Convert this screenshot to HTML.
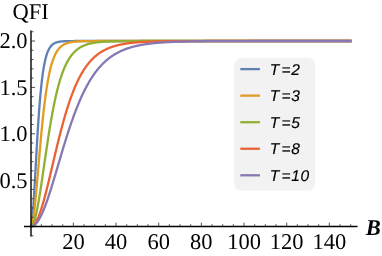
<!DOCTYPE html>
<html><head><meta charset="utf-8"><style>
html,body{margin:0;padding:0;background:#fff;}
svg{display:block;will-change:transform}
text{text-rendering:geometricPrecision}
.tk{font-family:"Liberation Serif",serif;font-size:22.5px;fill:#000}
.bl{font-family:"Liberation Serif",serif;font-size:22.5px;font-weight:bold;font-style:italic;fill:#000}
.lg{font-family:"Liberation Sans",sans-serif;font-size:15.5px;font-style:italic;fill:#000;letter-spacing:0.6px;stroke:#000;stroke-width:0.15px}
.lgi{font-family:"Liberation Sans",sans-serif;font-size:15.5px;font-style:italic;fill:#000;stroke:#000;stroke-width:0.15px}
</style></head><body>
<svg width="382" height="256" viewBox="0 0 382 256">
<rect width="382" height="256" fill="#fff"/>
<g>
<polyline fill="none" stroke="#5E81B5" stroke-width="2.3" stroke-linejoin="round" stroke-linecap="butt" points="30.73,226.50 31.14,225.96 31.55,224.36 31.96,221.73 32.37,218.13 32.78,213.64 33.19,208.36 33.60,202.39 34.02,195.85 34.44,188.85 34.86,181.52 35.28,173.96 35.70,166.29 36.13,158.59 36.56,150.96 36.99,143.48 37.42,136.19 37.86,129.17 38.29,122.43 38.73,116.02 39.17,109.95 39.61,104.23 40.06,98.87 40.50,93.87 40.95,89.23 41.39,84.92 41.84,80.94 42.29,77.28 42.74,73.92 43.19,70.84 43.65,68.02 44.10,65.44 44.55,63.10 45.01,60.96 45.46,59.02 45.92,57.26 46.37,55.67 46.83,54.22 47.29,52.92 47.74,51.73 48.20,50.66 48.66,49.70 49.12,48.83 49.57,48.04 50.03,47.34 50.49,46.70 50.95,46.12 51.41,45.61 51.87,45.14 52.33,44.72 52.78,44.34 53.24,44.01 53.70,43.70 54.16,43.43 54.62,43.18 55.08,42.96 55.54,42.76 56.00,42.58 56.46,42.42 56.92,42.27 57.38,42.14 57.84,42.03 58.30,41.92 58.76,41.83 59.22,41.74 59.68,41.67 60.14,41.60 60.60,41.54 61.06,41.48 61.52,41.43 61.98,41.39 62.44,41.35 62.90,41.31 63.36,41.28 63.82,41.25 64.28,41.23 64.74,41.20 65.20,41.18 65.66,41.16 66.12,41.15 66.58,41.13 67.04,41.12 67.50,41.11 67.96,41.10 68.42,41.09 68.88,41.08 69.34,41.07 69.80,41.06 70.26,41.06 70.72,41.05 71.18,41.05 71.64,41.04 72.10,41.04 72.56,41.03 73.02,41.03 73.48,41.03 73.94,41.02 74.40,41.02 74.86,41.02 75.32,41.02 75.78,41.02 76.24,41.01 76.70,41.01 77.16,41.01 77.62,41.01 78.08,41.01 78.54,41.01 79.00,41.01 79.46,41.01 79.92,41.01 80.38,41.01 80.84,41.00 81.30,41.00 81.76,41.00 82.22,41.00 82.68,41.00 83.14,41.00 83.60,41.00 84.06,41.00 84.52,41.00 84.98,41.00 85.44,41.00 85.90,41.00 86.36,41.00 86.82,41.00 87.28,41.00 87.75,41.00 88.21,41.00 88.67,41.00 89.13,41.00 89.59,41.00 90.05,41.00 90.51,41.00 90.97,41.00 91.43,41.00 91.89,41.00 92.35,41.00 92.81,41.00 93.27,41.00 93.73,41.00 94.19,41.00 94.65,41.00 95.11,41.00 95.57,41.00 96.03,41.00 96.49,41.00 96.95,41.00 97.41,41.00 97.87,41.00 98.33,41.00 98.79,41.00 99.25,41.00 99.71,41.00 100.17,41.00 100.63,41.00 101.09,41.00 101.55,41.00 102.01,41.00 102.47,41.00 102.93,41.00 103.39,41.00 103.85,41.00 104.31,41.00 104.77,41.00 105.23,41.00 105.69,41.00 106.15,41.00 106.61,41.00 107.07,41.00 107.53,41.00 107.99,41.00 108.45,41.00 108.91,41.00 109.37,41.00 109.83,41.00 110.29,41.00 110.75,41.00 111.21,41.00 111.67,41.00 112.13,41.00 112.59,41.00 113.05,41.00 113.51,41.00 113.97,41.00 114.43,41.00 114.89,41.00 115.35,41.00 115.81,41.00 116.27,41.00 116.73,41.00 117.19,41.00 117.65,41.00 118.11,41.00 118.57,41.00 119.03,41.00 119.49,41.00 119.95,41.00 120.41,41.00 120.87,41.00 121.33,41.00 121.79,41.00 122.25,41.00 122.71,41.00 123.17,41.00 123.63,41.00 124.09,41.00 124.55,41.00 125.01,41.00 125.47,41.00 125.93,41.00 126.40,41.00 126.86,41.00 127.32,41.00 127.78,41.00 128.24,41.00 128.70,41.00 129.16,41.00 129.62,41.00 130.08,41.00 130.54,41.00 131.00,41.00 131.46,41.00 131.92,41.00 132.38,41.00 132.84,41.00 133.30,41.00 133.76,41.00 134.22,41.00 134.68,41.00 135.14,41.00 135.60,41.00 136.06,41.00 136.52,41.00 136.98,41.00 137.44,41.00 137.90,41.00 138.36,41.00 138.82,41.00 139.28,41.00 139.74,41.00 140.20,41.00 140.66,41.00 141.12,41.00 141.58,41.00 142.04,41.00 142.50,41.00 142.96,41.00 143.42,41.00 143.88,41.00 144.34,41.00 144.80,41.00 145.26,41.00 145.72,41.00 146.18,41.00 146.64,41.00 147.10,41.00 147.56,41.00 148.02,41.00 148.48,41.00 148.94,41.00 149.40,41.00 149.86,41.00 150.32,41.00 150.78,41.00 151.24,41.00 151.70,41.00 152.16,41.00 152.62,41.00 153.08,41.00 153.54,41.00 154.00,41.00 154.46,41.00 154.92,41.00 155.38,41.00 155.84,41.00 156.30,41.00 156.76,41.00 157.22,41.00 157.68,41.00 158.14,41.00 158.60,41.00 159.06,41.00 159.52,41.00 159.98,41.00 160.44,41.00 160.90,41.00 161.36,41.00 161.82,41.00 162.28,41.00 162.74,41.00 163.20,41.00 163.66,41.00 164.12,41.00 164.58,41.00 165.05,41.00 165.51,41.00 165.97,41.00 166.43,41.00 166.89,41.00 167.35,41.00 167.81,41.00 168.27,41.00 168.73,41.00 169.19,41.00 169.65,41.00 170.11,41.00 170.57,41.00 171.03,41.00 171.49,41.00 171.95,41.00 172.41,41.00 172.87,41.00 173.33,41.00 173.79,41.00 174.25,41.00 174.71,41.00 175.17,41.00 175.63,41.00 176.09,41.00 176.55,41.00 177.01,41.00 177.47,41.00 177.93,41.00 178.39,41.00 178.85,41.00 179.31,41.00 179.77,41.00 180.23,41.00 180.69,41.00 181.15,41.00 181.61,41.00 182.07,41.00 182.53,41.00 182.99,41.00 183.45,41.00 183.91,41.00 184.37,41.00 184.83,41.00 185.29,41.00 185.75,41.00 186.21,41.00 186.67,41.00 187.13,41.00 187.59,41.00 188.05,41.00 188.51,41.00 188.97,41.00 189.43,41.00 189.89,41.00 190.35,41.00 190.81,41.00 191.27,41.00 191.73,41.00 192.19,41.00 192.65,41.00 193.11,41.00 193.57,41.00 194.03,41.00 194.49,41.00 194.95,41.00 195.41,41.00 195.87,41.00 196.33,41.00 196.79,41.00 197.25,41.00 197.71,41.00 198.17,41.00 198.63,41.00 199.09,41.00 199.55,41.00 200.01,41.00 200.47,41.00 200.93,41.00 201.39,41.00 201.85,41.00 202.31,41.00 202.77,41.00 203.23,41.00 203.69,41.00 204.16,41.00 204.62,41.00 205.08,41.00 205.54,41.00 206.00,41.00 206.46,41.00 206.92,41.00 207.38,41.00 207.84,41.00 208.30,41.00 208.76,41.00 209.22,41.00 209.68,41.00 210.14,41.00 210.60,41.00 211.06,41.00 211.52,41.00 211.98,41.00 212.44,41.00 212.90,41.00 213.36,41.00 213.82,41.00 214.28,41.00 214.74,41.00 215.20,41.00 215.66,41.00 216.12,41.00 216.58,41.00 217.04,41.00 217.50,41.00 217.96,41.00 218.42,41.00 218.88,41.00 219.34,41.00 219.80,41.00 220.26,41.00 220.72,41.00 221.18,41.00 221.64,41.00 222.10,41.00 222.56,41.00 223.02,41.00 223.48,41.00 223.94,41.00 224.40,41.00 224.86,41.00 225.32,41.00 225.78,41.00 226.24,41.00 226.70,41.00 227.16,41.00 227.62,41.00 228.08,41.00 228.54,41.00 229.00,41.00 229.46,41.00 229.92,41.00 230.38,41.00 230.84,41.00 231.30,41.00 231.76,41.00 232.22,41.00 232.68,41.00 233.14,41.00 233.60,41.00 234.06,41.00 234.52,41.00 234.98,41.00 235.44,41.00 235.90,41.00 236.36,41.00 236.82,41.00 237.28,41.00 237.74,41.00 238.20,41.00 238.66,41.00 239.12,41.00 239.58,41.00 240.04,41.00 240.50,41.00 240.96,41.00 241.42,41.00 241.88,41.00 242.34,41.00 242.81,41.00 243.27,41.00 243.73,41.00 244.19,41.00 244.65,41.00 245.11,41.00 245.57,41.00 246.03,41.00 246.49,41.00 246.95,41.00 247.41,41.00 247.87,41.00 248.33,41.00 248.79,41.00 249.25,41.00 249.71,41.00 250.17,41.00 250.63,41.00 251.09,41.00 251.55,41.00 252.01,41.00 252.47,41.00 252.93,41.00 253.39,41.00 253.85,41.00 254.31,41.00 254.77,41.00 255.23,41.00 255.69,41.00 256.15,41.00 256.61,41.00 257.07,41.00 257.53,41.00 257.99,41.00 258.45,41.00 258.91,41.00 259.37,41.00 259.83,41.00 260.29,41.00 260.75,41.00 261.21,41.00 261.67,41.00 262.13,41.00 262.59,41.00 263.05,41.00 263.51,41.00 263.97,41.00 264.43,41.00 264.89,41.00 265.35,41.00 265.81,41.00 266.27,41.00 266.73,41.00 267.19,41.00 267.65,41.00 268.11,41.00 268.57,41.00 269.03,41.00 269.49,41.00 269.95,41.00 270.41,41.00 270.87,41.00 271.33,41.00 271.79,41.00 272.25,41.00 272.71,41.00 273.17,41.00 273.63,41.00 274.09,41.00 274.55,41.00 275.01,41.00 275.47,41.00 275.93,41.00 276.39,41.00 276.85,41.00 277.31,41.00 277.77,41.00 278.23,41.00 278.69,41.00 279.15,41.00 279.61,41.00 280.07,41.00 280.53,41.00 280.99,41.00 281.46,41.00 281.92,41.00 282.38,41.00 282.84,41.00 283.30,41.00 283.76,41.00 284.22,41.00 284.68,41.00 285.14,41.00 285.60,41.00 286.06,41.00 286.52,41.00 286.98,41.00 287.44,41.00 287.90,41.00 288.36,41.00 288.82,41.00 289.28,41.00 289.74,41.00 290.20,41.00 290.66,41.00 291.12,41.00 291.58,41.00 292.04,41.00 292.50,41.00 292.96,41.00 293.42,41.00 293.88,41.00 294.34,41.00 294.80,41.00 295.26,41.00 295.72,41.00 296.18,41.00 296.64,41.00 297.10,41.00 297.56,41.00 298.02,41.00 298.48,41.00 298.94,41.00 299.40,41.00 299.86,41.00 300.32,41.00 300.78,41.00 301.24,41.00 301.70,41.00 302.16,41.00 302.62,41.00 303.08,41.00 303.54,41.00 304.00,41.00 304.46,41.00 304.92,41.00 305.38,41.00 305.84,41.00 306.30,41.00 306.76,41.00 307.22,41.00 307.68,41.00 308.14,41.00 308.60,41.00 309.06,41.00 309.52,41.00 309.98,41.00 310.44,41.00 310.90,41.00 311.36,41.00 311.82,41.00 312.28,41.00 312.74,41.00 313.20,41.00 313.66,41.00 314.12,41.00 314.58,41.00 315.04,41.00 315.50,41.00 315.96,41.00 316.42,41.00 316.88,41.00 317.34,41.00 317.80,41.00 318.26,41.00 318.72,41.00 319.18,41.00 319.64,41.00 320.10,41.00 320.57,41.00 321.03,41.00 321.49,41.00 321.95,41.00 322.41,41.00 322.87,41.00 323.33,41.00 323.79,41.00 324.25,41.00 324.71,41.00 325.17,41.00 325.63,41.00 326.09,41.00 326.55,41.00 327.01,41.00 327.47,41.00 327.93,41.00 328.39,41.00 328.85,41.00 329.31,41.00 329.77,41.00 330.23,41.00 330.69,41.00 331.15,41.00 331.61,41.00 332.07,41.00 332.53,41.00 332.99,41.00 333.45,41.00 333.91,41.00 334.37,41.00 334.83,41.00 335.29,41.00 335.75,41.00 336.21,41.00 336.67,41.00 337.13,41.00 337.59,41.00 338.05,41.00 338.51,41.00 338.97,41.00 339.43,41.00 339.89,41.00 340.35,41.00 340.81,41.00 341.27,41.00 341.73,41.00 342.19,41.00 342.65,41.00 343.11,41.00 343.57,41.00 344.03,41.00 344.49,41.00 344.95,41.00 345.41,41.00 345.87,41.00 346.33,41.00 346.79,41.00 347.25,41.00 347.71,41.00 348.17,41.00 348.63,41.00 349.09,41.00 349.55,41.00 350.01,41.00 350.47,41.00 350.93,41.00 351.39,41.00 351.64,41.00"/>
<polyline fill="none" stroke="#E19C24" stroke-width="2.3" stroke-linejoin="round" stroke-linecap="butt" points="30.73,226.50 31.16,226.26 31.58,225.54 32.01,224.36 32.43,222.72 32.86,220.63 33.29,218.13 33.71,215.23 34.14,211.96 34.57,208.36 35.00,204.45 35.43,200.26 35.86,195.85 36.29,191.22 36.73,186.44 37.16,181.52 37.59,176.50 38.03,171.41 38.47,166.29 38.90,161.15 39.34,156.04 39.78,150.96 40.22,145.95 40.66,141.02 41.10,136.19 41.55,131.48 41.99,126.89 42.43,122.43 42.88,118.12 43.33,113.95 43.77,109.95 44.22,106.10 44.67,102.40 45.12,98.87 45.57,95.50 46.02,92.29 46.47,89.23 46.92,86.32 47.37,83.56 47.82,80.94 48.28,78.47 48.73,76.13 49.18,73.92 49.64,71.83 50.09,69.87 50.55,68.02 51.00,66.28 51.46,64.64 51.91,63.10 52.37,61.65 52.83,60.30 53.28,59.02 53.74,57.83 54.20,56.72 54.66,55.67 55.11,54.69 55.57,53.77 56.03,52.92 56.49,52.11 56.94,51.36 57.40,50.66 57.86,50.01 58.32,49.40 58.78,48.83 59.24,48.30 59.70,47.80 60.15,47.34 60.61,46.90 61.07,46.50 61.53,46.12 61.99,45.77 62.45,45.45 62.91,45.14 63.37,44.86 63.83,44.59 64.29,44.34 64.75,44.11 65.21,43.90 65.67,43.70 66.13,43.51 66.59,43.34 67.05,43.18 67.51,43.03 67.96,42.89 68.42,42.76 68.88,42.64 69.34,42.52 69.80,42.42 70.26,42.32 70.72,42.23 71.18,42.14 71.64,42.07 72.10,41.99 72.56,41.92 73.02,41.86 73.48,41.80 73.94,41.74 74.40,41.69 74.86,41.64 75.32,41.60 75.78,41.56 76.24,41.52 76.70,41.48 77.16,41.45 77.62,41.42 78.08,41.39 78.54,41.36 79.00,41.34 79.46,41.31 79.92,41.29 80.38,41.27 80.84,41.25 81.30,41.24 81.76,41.22 82.22,41.20 82.68,41.19 83.14,41.18 83.60,41.16 84.06,41.15 84.52,41.14 84.98,41.13 85.44,41.12 85.90,41.11 86.37,41.11 86.83,41.10 87.29,41.09 87.75,41.09 88.21,41.08 88.67,41.07 89.13,41.07 89.59,41.06 90.05,41.06 90.51,41.06 90.97,41.05 91.43,41.05 91.89,41.05 92.35,41.04 92.81,41.04 93.27,41.04 93.73,41.03 94.19,41.03 94.65,41.03 95.11,41.03 95.57,41.03 96.03,41.02 96.49,41.02 96.95,41.02 97.41,41.02 97.87,41.02 98.33,41.02 98.79,41.02 99.25,41.01 99.71,41.01 100.17,41.01 100.63,41.01 101.09,41.01 101.55,41.01 102.01,41.01 102.47,41.01 102.93,41.01 103.39,41.01 103.85,41.01 104.31,41.01 104.77,41.01 105.23,41.01 105.69,41.01 106.15,41.00 106.61,41.00 107.07,41.00 107.53,41.00 107.99,41.00 108.45,41.00 108.91,41.00 109.37,41.00 109.83,41.00 110.29,41.00 110.75,41.00 111.21,41.00 111.67,41.00 112.13,41.00 112.59,41.00 113.05,41.00 113.51,41.00 113.97,41.00 114.43,41.00 114.89,41.00 115.35,41.00 115.81,41.00 116.27,41.00 116.73,41.00 117.19,41.00 117.65,41.00 118.11,41.00 118.57,41.00 119.03,41.00 119.49,41.00 119.95,41.00 120.41,41.00 120.87,41.00 121.33,41.00 121.79,41.00 122.25,41.00 122.71,41.00 123.17,41.00 123.63,41.00 124.09,41.00 124.55,41.00 125.01,41.00 125.47,41.00 125.93,41.00 126.40,41.00 126.86,41.00 127.32,41.00 127.78,41.00 128.24,41.00 128.70,41.00 129.16,41.00 129.62,41.00 130.08,41.00 130.54,41.00 131.00,41.00 131.46,41.00 131.92,41.00 132.38,41.00 132.84,41.00 133.30,41.00 133.76,41.00 134.22,41.00 134.68,41.00 135.14,41.00 135.60,41.00 136.06,41.00 136.52,41.00 136.98,41.00 137.44,41.00 137.90,41.00 138.36,41.00 138.82,41.00 139.28,41.00 139.74,41.00 140.20,41.00 140.66,41.00 141.12,41.00 141.58,41.00 142.04,41.00 142.50,41.00 142.96,41.00 143.42,41.00 143.88,41.00 144.34,41.00 144.80,41.00 145.26,41.00 145.72,41.00 146.18,41.00 146.64,41.00 147.10,41.00 147.56,41.00 148.02,41.00 148.48,41.00 148.94,41.00 149.40,41.00 149.86,41.00 150.32,41.00 150.78,41.00 151.24,41.00 151.70,41.00 152.16,41.00 152.62,41.00 153.08,41.00 153.54,41.00 154.00,41.00 154.46,41.00 154.92,41.00 155.38,41.00 155.84,41.00 156.30,41.00 156.76,41.00 157.22,41.00 157.68,41.00 158.14,41.00 158.60,41.00 159.06,41.00 159.52,41.00 159.98,41.00 160.44,41.00 160.90,41.00 161.36,41.00 161.82,41.00 162.28,41.00 162.74,41.00 163.20,41.00 163.66,41.00 164.12,41.00 164.58,41.00 165.05,41.00 165.51,41.00 165.97,41.00 166.43,41.00 166.89,41.00 167.35,41.00 167.81,41.00 168.27,41.00 168.73,41.00 169.19,41.00 169.65,41.00 170.11,41.00 170.57,41.00 171.03,41.00 171.49,41.00 171.95,41.00 172.41,41.00 172.87,41.00 173.33,41.00 173.79,41.00 174.25,41.00 174.71,41.00 175.17,41.00 175.63,41.00 176.09,41.00 176.55,41.00 177.01,41.00 177.47,41.00 177.93,41.00 178.39,41.00 178.85,41.00 179.31,41.00 179.77,41.00 180.23,41.00 180.69,41.00 181.15,41.00 181.61,41.00 182.07,41.00 182.53,41.00 182.99,41.00 183.45,41.00 183.91,41.00 184.37,41.00 184.83,41.00 185.29,41.00 185.75,41.00 186.21,41.00 186.67,41.00 187.13,41.00 187.59,41.00 188.05,41.00 188.51,41.00 188.97,41.00 189.43,41.00 189.89,41.00 190.35,41.00 190.81,41.00 191.27,41.00 191.73,41.00 192.19,41.00 192.65,41.00 193.11,41.00 193.57,41.00 194.03,41.00 194.49,41.00 194.95,41.00 195.41,41.00 195.87,41.00 196.33,41.00 196.79,41.00 197.25,41.00 197.71,41.00 198.17,41.00 198.63,41.00 199.09,41.00 199.55,41.00 200.01,41.00 200.47,41.00 200.93,41.00 201.39,41.00 201.85,41.00 202.31,41.00 202.77,41.00 203.23,41.00 203.69,41.00 204.16,41.00 204.62,41.00 205.08,41.00 205.54,41.00 206.00,41.00 206.46,41.00 206.92,41.00 207.38,41.00 207.84,41.00 208.30,41.00 208.76,41.00 209.22,41.00 209.68,41.00 210.14,41.00 210.60,41.00 211.06,41.00 211.52,41.00 211.98,41.00 212.44,41.00 212.90,41.00 213.36,41.00 213.82,41.00 214.28,41.00 214.74,41.00 215.20,41.00 215.66,41.00 216.12,41.00 216.58,41.00 217.04,41.00 217.50,41.00 217.96,41.00 218.42,41.00 218.88,41.00 219.34,41.00 219.80,41.00 220.26,41.00 220.72,41.00 221.18,41.00 221.64,41.00 222.10,41.00 222.56,41.00 223.02,41.00 223.48,41.00 223.94,41.00 224.40,41.00 224.86,41.00 225.32,41.00 225.78,41.00 226.24,41.00 226.70,41.00 227.16,41.00 227.62,41.00 228.08,41.00 228.54,41.00 229.00,41.00 229.46,41.00 229.92,41.00 230.38,41.00 230.84,41.00 231.30,41.00 231.76,41.00 232.22,41.00 232.68,41.00 233.14,41.00 233.60,41.00 234.06,41.00 234.52,41.00 234.98,41.00 235.44,41.00 235.90,41.00 236.36,41.00 236.82,41.00 237.28,41.00 237.74,41.00 238.20,41.00 238.66,41.00 239.12,41.00 239.58,41.00 240.04,41.00 240.50,41.00 240.96,41.00 241.42,41.00 241.88,41.00 242.34,41.00 242.81,41.00 243.27,41.00 243.73,41.00 244.19,41.00 244.65,41.00 245.11,41.00 245.57,41.00 246.03,41.00 246.49,41.00 246.95,41.00 247.41,41.00 247.87,41.00 248.33,41.00 248.79,41.00 249.25,41.00 249.71,41.00 250.17,41.00 250.63,41.00 251.09,41.00 251.55,41.00 252.01,41.00 252.47,41.00 252.93,41.00 253.39,41.00 253.85,41.00 254.31,41.00 254.77,41.00 255.23,41.00 255.69,41.00 256.15,41.00 256.61,41.00 257.07,41.00 257.53,41.00 257.99,41.00 258.45,41.00 258.91,41.00 259.37,41.00 259.83,41.00 260.29,41.00 260.75,41.00 261.21,41.00 261.67,41.00 262.13,41.00 262.59,41.00 263.05,41.00 263.51,41.00 263.97,41.00 264.43,41.00 264.89,41.00 265.35,41.00 265.81,41.00 266.27,41.00 266.73,41.00 267.19,41.00 267.65,41.00 268.11,41.00 268.57,41.00 269.03,41.00 269.49,41.00 269.95,41.00 270.41,41.00 270.87,41.00 271.33,41.00 271.79,41.00 272.25,41.00 272.71,41.00 273.17,41.00 273.63,41.00 274.09,41.00 274.55,41.00 275.01,41.00 275.47,41.00 275.93,41.00 276.39,41.00 276.85,41.00 277.31,41.00 277.77,41.00 278.23,41.00 278.69,41.00 279.15,41.00 279.61,41.00 280.07,41.00 280.53,41.00 280.99,41.00 281.46,41.00 281.92,41.00 282.38,41.00 282.84,41.00 283.30,41.00 283.76,41.00 284.22,41.00 284.68,41.00 285.14,41.00 285.60,41.00 286.06,41.00 286.52,41.00 286.98,41.00 287.44,41.00 287.90,41.00 288.36,41.00 288.82,41.00 289.28,41.00 289.74,41.00 290.20,41.00 290.66,41.00 291.12,41.00 291.58,41.00 292.04,41.00 292.50,41.00 292.96,41.00 293.42,41.00 293.88,41.00 294.34,41.00 294.80,41.00 295.26,41.00 295.72,41.00 296.18,41.00 296.64,41.00 297.10,41.00 297.56,41.00 298.02,41.00 298.48,41.00 298.94,41.00 299.40,41.00 299.86,41.00 300.32,41.00 300.78,41.00 301.24,41.00 301.70,41.00 302.16,41.00 302.62,41.00 303.08,41.00 303.54,41.00 304.00,41.00 304.46,41.00 304.92,41.00 305.38,41.00 305.84,41.00 306.30,41.00 306.76,41.00 307.22,41.00 307.68,41.00 308.14,41.00 308.60,41.00 309.06,41.00 309.52,41.00 309.98,41.00 310.44,41.00 310.90,41.00 311.36,41.00 311.82,41.00 312.28,41.00 312.74,41.00 313.20,41.00 313.66,41.00 314.12,41.00 314.58,41.00 315.04,41.00 315.50,41.00 315.96,41.00 316.42,41.00 316.88,41.00 317.34,41.00 317.80,41.00 318.26,41.00 318.72,41.00 319.18,41.00 319.64,41.00 320.10,41.00 320.57,41.00 321.03,41.00 321.49,41.00 321.95,41.00 322.41,41.00 322.87,41.00 323.33,41.00 323.79,41.00 324.25,41.00 324.71,41.00 325.17,41.00 325.63,41.00 326.09,41.00 326.55,41.00 327.01,41.00 327.47,41.00 327.93,41.00 328.39,41.00 328.85,41.00 329.31,41.00 329.77,41.00 330.23,41.00 330.69,41.00 331.15,41.00 331.61,41.00 332.07,41.00 332.53,41.00 332.99,41.00 333.45,41.00 333.91,41.00 334.37,41.00 334.83,41.00 335.29,41.00 335.75,41.00 336.21,41.00 336.67,41.00 337.13,41.00 337.59,41.00 338.05,41.00 338.51,41.00 338.97,41.00 339.43,41.00 339.89,41.00 340.35,41.00 340.81,41.00 341.27,41.00 341.73,41.00 342.19,41.00 342.65,41.00 343.11,41.00 343.57,41.00 344.03,41.00 344.49,41.00 344.95,41.00 345.41,41.00 345.87,41.00 346.33,41.00 346.79,41.00 347.25,41.00 347.71,41.00 348.17,41.00 348.63,41.00 349.09,41.00 349.55,41.00 350.01,41.00 350.47,41.00 350.93,41.00 351.39,41.00 351.64,41.00"/>
<polyline fill="none" stroke="#8FB032" stroke-width="2.3" stroke-linejoin="round" stroke-linecap="butt" points="30.73,226.50 31.17,226.41 31.61,226.16 32.05,225.73 32.49,225.13 32.93,224.36 33.37,223.43 33.81,222.33 34.25,221.08 34.69,219.68 35.13,218.13 35.57,216.44 36.01,214.61 36.45,212.64 36.89,210.56 37.33,208.36 37.77,206.05 38.21,203.63 38.66,201.12 39.10,198.52 39.54,195.85 39.99,193.09 40.43,190.28 40.87,187.41 41.32,184.48 41.76,181.52 42.20,178.51 42.65,175.48 43.10,172.43 43.54,169.36 43.99,166.29 44.43,163.21 44.88,160.13 45.33,157.06 45.77,154.00 46.22,150.96 46.67,147.95 47.12,144.96 47.57,142.00 48.02,139.08 48.47,136.19 48.91,133.35 49.36,130.55 49.81,127.79 50.27,125.09 50.72,122.43 51.17,119.82 51.62,117.27 52.07,114.77 52.52,112.33 52.98,109.95 53.43,107.62 53.88,105.34 54.33,103.13 54.79,100.97 55.24,98.87 55.69,96.83 56.15,94.85 56.60,92.92 57.06,91.04 57.51,89.23 57.97,87.46 58.42,85.75 58.88,84.10 59.33,82.50 59.79,80.94 60.24,79.44 60.70,77.99 61.16,76.59 61.61,75.23 62.07,73.92 62.52,72.65 62.98,71.43 63.44,70.25 63.89,69.11 64.35,68.02 64.81,66.96 65.27,65.94 65.72,64.96 66.18,64.01 66.64,63.10 67.10,62.22 67.55,61.37 68.01,60.56 68.47,59.78 68.93,59.02 69.39,58.30 69.84,57.60 70.30,56.93 70.76,56.29 71.22,55.67 71.68,55.07 72.14,54.50 72.60,53.95 73.05,53.42 73.51,52.92 73.97,52.43 74.43,51.96 74.89,51.51 75.35,51.08 75.81,50.66 76.27,50.27 76.73,49.89 77.18,49.52 77.64,49.17 78.10,48.83 78.56,48.51 79.02,48.19 79.48,47.90 79.94,47.61 80.40,47.34 80.86,47.07 81.32,46.82 81.78,46.58 82.24,46.35 82.70,46.12 83.16,45.91 83.62,45.71 84.08,45.51 84.54,45.32 85.00,45.14 85.45,44.97 85.91,44.80 86.37,44.64 86.83,44.49 87.29,44.34 87.75,44.20 88.21,44.07 88.67,43.94 89.13,43.82 89.59,43.70 90.05,43.59 90.51,43.48 90.97,43.37 91.43,43.28 91.89,43.18 92.35,43.09 92.81,43.00 93.27,42.92 93.73,42.84 94.19,42.76 94.65,42.68 95.11,42.61 95.57,42.55 96.03,42.48 96.49,42.42 96.95,42.36 97.41,42.30 97.87,42.25 98.33,42.19 98.79,42.14 99.25,42.10 99.71,42.05 100.17,42.01 100.63,41.96 101.09,41.92 101.55,41.88 102.01,41.85 102.47,41.81 102.93,41.78 103.39,41.74 103.85,41.71 104.31,41.68 104.77,41.65 105.23,41.63 105.69,41.60 106.15,41.57 106.61,41.55 107.07,41.53 107.53,41.51 107.99,41.48 108.45,41.46 108.91,41.44 109.37,41.43 109.83,41.41 110.29,41.39 110.75,41.37 111.21,41.36 111.67,41.34 112.13,41.33 112.59,41.31 113.05,41.30 113.51,41.29 113.97,41.28 114.43,41.26 114.89,41.25 115.35,41.24 115.81,41.23 116.27,41.22 116.73,41.21 117.19,41.20 117.65,41.20 118.11,41.19 118.57,41.18 119.03,41.17 119.49,41.16 119.95,41.16 120.41,41.15 120.87,41.14 121.33,41.14 121.79,41.13 122.25,41.13 122.71,41.12 123.17,41.12 123.63,41.11 124.09,41.11 124.55,41.10 125.01,41.10 125.48,41.09 125.94,41.09 126.40,41.09 126.86,41.08 127.32,41.08 127.78,41.08 128.24,41.07 128.70,41.07 129.16,41.07 129.62,41.06 130.08,41.06 130.54,41.06 131.00,41.06 131.46,41.05 131.92,41.05 132.38,41.05 132.84,41.05 133.30,41.05 133.76,41.04 134.22,41.04 134.68,41.04 135.14,41.04 135.60,41.04 136.06,41.03 136.52,41.03 136.98,41.03 137.44,41.03 137.90,41.03 138.36,41.03 138.82,41.03 139.28,41.03 139.74,41.02 140.20,41.02 140.66,41.02 141.12,41.02 141.58,41.02 142.04,41.02 142.50,41.02 142.96,41.02 143.42,41.02 143.88,41.02 144.34,41.02 144.80,41.02 145.26,41.01 145.72,41.01 146.18,41.01 146.64,41.01 147.10,41.01 147.56,41.01 148.02,41.01 148.48,41.01 148.94,41.01 149.40,41.01 149.86,41.01 150.32,41.01 150.78,41.01 151.24,41.01 151.70,41.01 152.16,41.01 152.62,41.01 153.08,41.01 153.54,41.01 154.00,41.01 154.46,41.01 154.92,41.01 155.38,41.01 155.84,41.01 156.30,41.01 156.76,41.01 157.22,41.00 157.68,41.00 158.14,41.00 158.60,41.00 159.06,41.00 159.52,41.00 159.98,41.00 160.44,41.00 160.90,41.00 161.36,41.00 161.82,41.00 162.28,41.00 162.74,41.00 163.20,41.00 163.66,41.00 164.12,41.00 164.58,41.00 165.05,41.00 165.51,41.00 165.97,41.00 166.43,41.00 166.89,41.00 167.35,41.00 167.81,41.00 168.27,41.00 168.73,41.00 169.19,41.00 169.65,41.00 170.11,41.00 170.57,41.00 171.03,41.00 171.49,41.00 171.95,41.00 172.41,41.00 172.87,41.00 173.33,41.00 173.79,41.00 174.25,41.00 174.71,41.00 175.17,41.00 175.63,41.00 176.09,41.00 176.55,41.00 177.01,41.00 177.47,41.00 177.93,41.00 178.39,41.00 178.85,41.00 179.31,41.00 179.77,41.00 180.23,41.00 180.69,41.00 181.15,41.00 181.61,41.00 182.07,41.00 182.53,41.00 182.99,41.00 183.45,41.00 183.91,41.00 184.37,41.00 184.83,41.00 185.29,41.00 185.75,41.00 186.21,41.00 186.67,41.00 187.13,41.00 187.59,41.00 188.05,41.00 188.51,41.00 188.97,41.00 189.43,41.00 189.89,41.00 190.35,41.00 190.81,41.00 191.27,41.00 191.73,41.00 192.19,41.00 192.65,41.00 193.11,41.00 193.57,41.00 194.03,41.00 194.49,41.00 194.95,41.00 195.41,41.00 195.87,41.00 196.33,41.00 196.79,41.00 197.25,41.00 197.71,41.00 198.17,41.00 198.63,41.00 199.09,41.00 199.55,41.00 200.01,41.00 200.47,41.00 200.93,41.00 201.39,41.00 201.85,41.00 202.31,41.00 202.77,41.00 203.23,41.00 203.69,41.00 204.16,41.00 204.62,41.00 205.08,41.00 205.54,41.00 206.00,41.00 206.46,41.00 206.92,41.00 207.38,41.00 207.84,41.00 208.30,41.00 208.76,41.00 209.22,41.00 209.68,41.00 210.14,41.00 210.60,41.00 211.06,41.00 211.52,41.00 211.98,41.00 212.44,41.00 212.90,41.00 213.36,41.00 213.82,41.00 214.28,41.00 214.74,41.00 215.20,41.00 215.66,41.00 216.12,41.00 216.58,41.00 217.04,41.00 217.50,41.00 217.96,41.00 218.42,41.00 218.88,41.00 219.34,41.00 219.80,41.00 220.26,41.00 220.72,41.00 221.18,41.00 221.64,41.00 222.10,41.00 222.56,41.00 223.02,41.00 223.48,41.00 223.94,41.00 224.40,41.00 224.86,41.00 225.32,41.00 225.78,41.00 226.24,41.00 226.70,41.00 227.16,41.00 227.62,41.00 228.08,41.00 228.54,41.00 229.00,41.00 229.46,41.00 229.92,41.00 230.38,41.00 230.84,41.00 231.30,41.00 231.76,41.00 232.22,41.00 232.68,41.00 233.14,41.00 233.60,41.00 234.06,41.00 234.52,41.00 234.98,41.00 235.44,41.00 235.90,41.00 236.36,41.00 236.82,41.00 237.28,41.00 237.74,41.00 238.20,41.00 238.66,41.00 239.12,41.00 239.58,41.00 240.04,41.00 240.50,41.00 240.96,41.00 241.42,41.00 241.88,41.00 242.34,41.00 242.81,41.00 243.27,41.00 243.73,41.00 244.19,41.00 244.65,41.00 245.11,41.00 245.57,41.00 246.03,41.00 246.49,41.00 246.95,41.00 247.41,41.00 247.87,41.00 248.33,41.00 248.79,41.00 249.25,41.00 249.71,41.00 250.17,41.00 250.63,41.00 251.09,41.00 251.55,41.00 252.01,41.00 252.47,41.00 252.93,41.00 253.39,41.00 253.85,41.00 254.31,41.00 254.77,41.00 255.23,41.00 255.69,41.00 256.15,41.00 256.61,41.00 257.07,41.00 257.53,41.00 257.99,41.00 258.45,41.00 258.91,41.00 259.37,41.00 259.83,41.00 260.29,41.00 260.75,41.00 261.21,41.00 261.67,41.00 262.13,41.00 262.59,41.00 263.05,41.00 263.51,41.00 263.97,41.00 264.43,41.00 264.89,41.00 265.35,41.00 265.81,41.00 266.27,41.00 266.73,41.00 267.19,41.00 267.65,41.00 268.11,41.00 268.57,41.00 269.03,41.00 269.49,41.00 269.95,41.00 270.41,41.00 270.87,41.00 271.33,41.00 271.79,41.00 272.25,41.00 272.71,41.00 273.17,41.00 273.63,41.00 274.09,41.00 274.55,41.00 275.01,41.00 275.47,41.00 275.93,41.00 276.39,41.00 276.85,41.00 277.31,41.00 277.77,41.00 278.23,41.00 278.69,41.00 279.15,41.00 279.61,41.00 280.07,41.00 280.53,41.00 280.99,41.00 281.46,41.00 281.92,41.00 282.38,41.00 282.84,41.00 283.30,41.00 283.76,41.00 284.22,41.00 284.68,41.00 285.14,41.00 285.60,41.00 286.06,41.00 286.52,41.00 286.98,41.00 287.44,41.00 287.90,41.00 288.36,41.00 288.82,41.00 289.28,41.00 289.74,41.00 290.20,41.00 290.66,41.00 291.12,41.00 291.58,41.00 292.04,41.00 292.50,41.00 292.96,41.00 293.42,41.00 293.88,41.00 294.34,41.00 294.80,41.00 295.26,41.00 295.72,41.00 296.18,41.00 296.64,41.00 297.10,41.00 297.56,41.00 298.02,41.00 298.48,41.00 298.94,41.00 299.40,41.00 299.86,41.00 300.32,41.00 300.78,41.00 301.24,41.00 301.70,41.00 302.16,41.00 302.62,41.00 303.08,41.00 303.54,41.00 304.00,41.00 304.46,41.00 304.92,41.00 305.38,41.00 305.84,41.00 306.30,41.00 306.76,41.00 307.22,41.00 307.68,41.00 308.14,41.00 308.60,41.00 309.06,41.00 309.52,41.00 309.98,41.00 310.44,41.00 310.90,41.00 311.36,41.00 311.82,41.00 312.28,41.00 312.74,41.00 313.20,41.00 313.66,41.00 314.12,41.00 314.58,41.00 315.04,41.00 315.50,41.00 315.96,41.00 316.42,41.00 316.88,41.00 317.34,41.00 317.80,41.00 318.26,41.00 318.72,41.00 319.18,41.00 319.64,41.00 320.10,41.00 320.57,41.00 321.03,41.00 321.49,41.00 321.95,41.00 322.41,41.00 322.87,41.00 323.33,41.00 323.79,41.00 324.25,41.00 324.71,41.00 325.17,41.00 325.63,41.00 326.09,41.00 326.55,41.00 327.01,41.00 327.47,41.00 327.93,41.00 328.39,41.00 328.85,41.00 329.31,41.00 329.77,41.00 330.23,41.00 330.69,41.00 331.15,41.00 331.61,41.00 332.07,41.00 332.53,41.00 332.99,41.00 333.45,41.00 333.91,41.00 334.37,41.00 334.83,41.00 335.29,41.00 335.75,41.00 336.21,41.00 336.67,41.00 337.13,41.00 337.59,41.00 338.05,41.00 338.51,41.00 338.97,41.00 339.43,41.00 339.89,41.00 340.35,41.00 340.81,41.00 341.27,41.00 341.73,41.00 342.19,41.00 342.65,41.00 343.11,41.00 343.57,41.00 344.03,41.00 344.49,41.00 344.95,41.00 345.41,41.00 345.87,41.00 346.33,41.00 346.79,41.00 347.25,41.00 347.71,41.00 348.17,41.00 348.63,41.00 349.09,41.00 349.55,41.00 350.01,41.00 350.47,41.00 350.93,41.00 351.39,41.00 351.64,41.00"/>
<polyline fill="none" stroke="#EB6235" stroke-width="2.3" stroke-linejoin="round" stroke-linecap="butt" points="30.73,226.50 31.18,226.47 31.62,226.37 32.07,226.20 32.52,225.96 32.97,225.66 33.41,225.29 33.86,224.86 34.31,224.36 34.76,223.80 35.20,223.17 35.65,222.48 36.10,221.73 36.55,220.92 36.99,220.05 37.44,219.12 37.89,218.13 38.34,217.09 38.78,215.99 39.23,214.84 39.68,213.64 40.13,212.39 40.58,211.09 41.02,209.75 41.47,208.36 41.92,206.93 42.37,205.45 42.82,203.94 43.27,202.39 43.72,200.80 44.17,199.18 44.61,197.53 45.06,195.85 45.51,194.13 45.96,192.40 46.41,190.63 46.86,188.85 47.31,187.04 47.76,185.22 48.21,183.37 48.66,181.52 49.11,179.64 49.56,177.76 50.01,175.86 50.46,173.96 50.92,172.05 51.37,170.13 51.82,168.21 52.27,166.29 52.72,164.36 53.17,162.44 53.62,160.51 54.08,158.59 54.53,156.68 54.98,154.76 55.43,152.86 55.88,150.96 56.34,149.08 56.79,147.20 57.24,145.33 57.69,143.48 58.15,141.64 58.60,139.81 59.05,137.99 59.51,136.19 59.96,134.41 60.42,132.65 60.87,130.90 61.32,129.17 61.78,127.45 62.23,125.76 62.69,124.08 63.14,122.43 63.59,120.79 64.05,119.18 64.50,117.59 64.96,116.02 65.41,114.47 65.87,112.94 66.32,111.43 66.78,109.95 67.23,108.48 67.69,107.04 68.15,105.63 68.60,104.23 69.06,102.86 69.51,101.51 69.97,100.18 70.42,98.87 70.88,97.59 71.34,96.33 71.79,95.09 72.25,93.87 72.71,92.68 73.16,91.51 73.62,90.36 74.08,89.23 74.53,88.12 74.99,87.03 75.45,85.97 75.90,84.92 76.36,83.90 76.82,82.89 77.27,81.91 77.73,80.94 78.19,80.00 78.65,79.08 79.10,78.17 79.56,77.28 80.02,76.41 80.48,75.56 80.93,74.73 81.39,73.92 81.85,73.12 82.31,72.34 82.77,71.58 83.22,70.84 83.68,70.11 84.14,69.40 84.60,68.70 85.06,68.02 85.52,67.35 85.97,66.70 86.43,66.07 86.89,65.44 87.35,64.84 87.81,64.24 88.27,63.66 88.72,63.10 89.18,62.55 89.64,62.01 90.10,61.48 90.56,60.96 91.02,60.46 91.48,59.97 91.94,59.49 92.39,59.02 92.85,58.57 93.31,58.12 93.77,57.69 94.23,57.26 94.69,56.85 95.15,56.45 95.61,56.05 96.07,55.67 96.53,55.29 96.98,54.93 97.44,54.57 97.90,54.22 98.36,53.88 98.82,53.55 99.28,53.23 99.74,52.92 100.20,52.61 100.66,52.31 101.12,52.02 101.58,51.73 102.04,51.46 102.50,51.19 102.96,50.92 103.41,50.66 103.87,50.41 104.33,50.17 104.79,49.93 105.25,49.70 105.71,49.47 106.17,49.25 106.63,49.04 107.09,48.83 107.55,48.63 108.01,48.43 108.47,48.23 108.93,48.04 109.39,47.86 109.85,47.68 110.31,47.51 110.77,47.34 111.23,47.17 111.69,47.01 112.15,46.85 112.61,46.70 113.07,46.55 113.53,46.40 113.99,46.26 114.45,46.12 114.91,45.99 115.36,45.86 115.82,45.73 116.28,45.61 116.74,45.49 117.20,45.37 117.66,45.25 118.12,45.14 118.58,45.03 119.04,44.93 119.50,44.82 119.96,44.72 120.42,44.62 120.88,44.53 121.34,44.44 121.80,44.34 122.26,44.26 122.72,44.17 123.18,44.09 123.64,44.01 124.10,43.93 124.56,43.85 125.02,43.77 125.48,43.70 125.94,43.63 126.40,43.56 126.86,43.49 127.32,43.43 127.78,43.36 128.24,43.30 128.70,43.24 129.16,43.18 129.62,43.12 130.08,43.07 130.54,43.01 131.00,42.96 131.46,42.91 131.92,42.86 132.38,42.81 132.84,42.76 133.30,42.71 133.76,42.67 134.22,42.62 134.68,42.58 135.14,42.54 135.60,42.50 136.06,42.46 136.52,42.42 136.98,42.38 137.44,42.34 137.90,42.31 138.36,42.27 138.82,42.24 139.28,42.21 139.74,42.18 140.20,42.14 140.66,42.11 141.12,42.08 141.58,42.06 142.04,42.03 142.50,42.00 142.96,41.97 143.42,41.95 143.88,41.92 144.34,41.90 144.80,41.87 145.26,41.85 145.72,41.83 146.18,41.81 146.64,41.79 147.10,41.76 147.56,41.74 148.02,41.72 148.48,41.71 148.94,41.69 149.40,41.67 149.86,41.65 150.32,41.63 150.78,41.62 151.24,41.60 151.70,41.58 152.16,41.57 152.62,41.55 153.08,41.54 153.54,41.52 154.00,41.51 154.46,41.50 154.92,41.48 155.38,41.47 155.84,41.46 156.30,41.45 156.76,41.43 157.22,41.42 157.68,41.41 158.14,41.40 158.60,41.39 159.06,41.38 159.52,41.37 159.98,41.36 160.44,41.35 160.90,41.34 161.36,41.33 161.83,41.32 162.29,41.31 162.75,41.31 163.21,41.30 163.67,41.29 164.13,41.28 164.59,41.27 165.05,41.27 165.51,41.26 165.97,41.25 166.43,41.25 166.89,41.24 167.35,41.23 167.81,41.23 168.27,41.22 168.73,41.22 169.19,41.21 169.65,41.20 170.11,41.20 170.57,41.19 171.03,41.19 171.49,41.18 171.95,41.18 172.41,41.17 172.87,41.17 173.33,41.16 173.79,41.16 174.25,41.16 174.71,41.15 175.17,41.15 175.63,41.14 176.09,41.14 176.55,41.14 177.01,41.13 177.47,41.13 177.93,41.13 178.39,41.12 178.85,41.12 179.31,41.12 179.77,41.11 180.23,41.11 180.69,41.11 181.15,41.10 181.61,41.10 182.07,41.10 182.53,41.10 182.99,41.09 183.45,41.09 183.91,41.09 184.37,41.09 184.83,41.08 185.29,41.08 185.75,41.08 186.21,41.08 186.67,41.08 187.13,41.07 187.59,41.07 188.05,41.07 188.51,41.07 188.97,41.07 189.43,41.06 189.89,41.06 190.35,41.06 190.81,41.06 191.27,41.06 191.73,41.06 192.19,41.05 192.65,41.05 193.11,41.05 193.57,41.05 194.03,41.05 194.49,41.05 194.95,41.05 195.41,41.05 195.87,41.04 196.33,41.04 196.79,41.04 197.25,41.04 197.71,41.04 198.17,41.04 198.63,41.04 199.09,41.04 199.55,41.04 200.01,41.03 200.47,41.03 200.93,41.03 201.39,41.03 201.85,41.03 202.31,41.03 202.77,41.03 203.23,41.03 203.70,41.03 204.16,41.03 204.62,41.03 205.08,41.03 205.54,41.02 206.00,41.02 206.46,41.02 206.92,41.02 207.38,41.02 207.84,41.02 208.30,41.02 208.76,41.02 209.22,41.02 209.68,41.02 210.14,41.02 210.60,41.02 211.06,41.02 211.52,41.02 211.98,41.02 212.44,41.02 212.90,41.02 213.36,41.02 213.82,41.02 214.28,41.01 214.74,41.01 215.20,41.01 215.66,41.01 216.12,41.01 216.58,41.01 217.04,41.01 217.50,41.01 217.96,41.01 218.42,41.01 218.88,41.01 219.34,41.01 219.80,41.01 220.26,41.01 220.72,41.01 221.18,41.01 221.64,41.01 222.10,41.01 222.56,41.01 223.02,41.01 223.48,41.01 223.94,41.01 224.40,41.01 224.86,41.01 225.32,41.01 225.78,41.01 226.24,41.01 226.70,41.01 227.16,41.01 227.62,41.01 228.08,41.01 228.54,41.01 229.00,41.01 229.46,41.01 229.92,41.01 230.38,41.01 230.84,41.01 231.30,41.01 231.76,41.01 232.22,41.01 232.68,41.01 233.14,41.00 233.60,41.00 234.06,41.00 234.52,41.00 234.98,41.00 235.44,41.00 235.90,41.00 236.36,41.00 236.82,41.00 237.28,41.00 237.74,41.00 238.20,41.00 238.66,41.00 239.12,41.00 239.58,41.00 240.04,41.00 240.50,41.00 240.96,41.00 241.42,41.00 241.88,41.00 242.34,41.00 242.81,41.00 243.27,41.00 243.73,41.00 244.19,41.00 244.65,41.00 245.11,41.00 245.57,41.00 246.03,41.00 246.49,41.00 246.95,41.00 247.41,41.00 247.87,41.00 248.33,41.00 248.79,41.00 249.25,41.00 249.71,41.00 250.17,41.00 250.63,41.00 251.09,41.00 251.55,41.00 252.01,41.00 252.47,41.00 252.93,41.00 253.39,41.00 253.85,41.00 254.31,41.00 254.77,41.00 255.23,41.00 255.69,41.00 256.15,41.00 256.61,41.00 257.07,41.00 257.53,41.00 257.99,41.00 258.45,41.00 258.91,41.00 259.37,41.00 259.83,41.00 260.29,41.00 260.75,41.00 261.21,41.00 261.67,41.00 262.13,41.00 262.59,41.00 263.05,41.00 263.51,41.00 263.97,41.00 264.43,41.00 264.89,41.00 265.35,41.00 265.81,41.00 266.27,41.00 266.73,41.00 267.19,41.00 267.65,41.00 268.11,41.00 268.57,41.00 269.03,41.00 269.49,41.00 269.95,41.00 270.41,41.00 270.87,41.00 271.33,41.00 271.79,41.00 272.25,41.00 272.71,41.00 273.17,41.00 273.63,41.00 274.09,41.00 274.55,41.00 275.01,41.00 275.47,41.00 275.93,41.00 276.39,41.00 276.85,41.00 277.31,41.00 277.77,41.00 278.23,41.00 278.69,41.00 279.15,41.00 279.61,41.00 280.07,41.00 280.53,41.00 280.99,41.00 281.46,41.00 281.92,41.00 282.38,41.00 282.84,41.00 283.30,41.00 283.76,41.00 284.22,41.00 284.68,41.00 285.14,41.00 285.60,41.00 286.06,41.00 286.52,41.00 286.98,41.00 287.44,41.00 287.90,41.00 288.36,41.00 288.82,41.00 289.28,41.00 289.74,41.00 290.20,41.00 290.66,41.00 291.12,41.00 291.58,41.00 292.04,41.00 292.50,41.00 292.96,41.00 293.42,41.00 293.88,41.00 294.34,41.00 294.80,41.00 295.26,41.00 295.72,41.00 296.18,41.00 296.64,41.00 297.10,41.00 297.56,41.00 298.02,41.00 298.48,41.00 298.94,41.00 299.40,41.00 299.86,41.00 300.32,41.00 300.78,41.00 301.24,41.00 301.70,41.00 302.16,41.00 302.62,41.00 303.08,41.00 303.54,41.00 304.00,41.00 304.46,41.00 304.92,41.00 305.38,41.00 305.84,41.00 306.30,41.00 306.76,41.00 307.22,41.00 307.68,41.00 308.14,41.00 308.60,41.00 309.06,41.00 309.52,41.00 309.98,41.00 310.44,41.00 310.90,41.00 311.36,41.00 311.82,41.00 312.28,41.00 312.74,41.00 313.20,41.00 313.66,41.00 314.12,41.00 314.58,41.00 315.04,41.00 315.50,41.00 315.96,41.00 316.42,41.00 316.88,41.00 317.34,41.00 317.80,41.00 318.26,41.00 318.72,41.00 319.18,41.00 319.64,41.00 320.10,41.00 320.57,41.00 321.03,41.00 321.49,41.00 321.95,41.00 322.41,41.00 322.87,41.00 323.33,41.00 323.79,41.00 324.25,41.00 324.71,41.00 325.17,41.00 325.63,41.00 326.09,41.00 326.55,41.00 327.01,41.00 327.47,41.00 327.93,41.00 328.39,41.00 328.85,41.00 329.31,41.00 329.77,41.00 330.23,41.00 330.69,41.00 331.15,41.00 331.61,41.00 332.07,41.00 332.53,41.00 332.99,41.00 333.45,41.00 333.91,41.00 334.37,41.00 334.83,41.00 335.29,41.00 335.75,41.00 336.21,41.00 336.67,41.00 337.13,41.00 337.59,41.00 338.05,41.00 338.51,41.00 338.97,41.00 339.43,41.00 339.89,41.00 340.35,41.00 340.81,41.00 341.27,41.00 341.73,41.00 342.19,41.00 342.65,41.00 343.11,41.00 343.57,41.00 344.03,41.00 344.49,41.00 344.95,41.00 345.41,41.00 345.87,41.00 346.33,41.00 346.79,41.00 347.25,41.00 347.71,41.00 348.17,41.00 348.63,41.00 349.09,41.00 349.55,41.00 350.01,41.00 350.47,41.00 350.93,41.00 351.39,41.00 351.64,41.00"/>
<polyline fill="none" stroke="#8778B3" stroke-width="2.3" stroke-linejoin="round" stroke-linecap="butt" points="30.73,226.50 31.18,226.48 31.63,226.41 32.08,226.31 32.53,226.16 32.98,225.96 33.43,225.73 33.88,225.45 34.33,225.13 34.78,224.76 35.23,224.36 35.68,223.91 36.13,223.43 36.58,222.90 37.03,222.33 37.48,221.73 37.93,221.08 38.38,220.40 38.83,219.68 39.28,218.92 39.73,218.13 40.18,217.30 40.63,216.44 41.08,215.54 41.53,214.61 41.98,213.64 42.43,212.64 42.88,211.62 43.33,210.56 43.78,209.47 44.23,208.36 44.68,207.22 45.14,206.05 45.59,204.85 46.04,203.63 46.49,202.39 46.94,201.12 47.39,199.83 47.84,198.52 48.29,197.19 48.74,195.85 49.20,194.48 49.65,193.09 50.10,191.69 50.55,190.28 51.00,188.85 51.45,187.41 51.91,185.95 52.36,184.48 52.81,183.00 53.26,181.52 53.72,180.02 54.17,178.51 54.62,177.00 55.07,175.48 55.53,173.96 55.98,172.43 56.43,170.90 56.88,169.36 57.34,167.82 57.79,166.29 58.24,164.75 58.70,163.21 59.15,161.67 59.60,160.13 60.06,158.59 60.51,157.06 60.96,155.53 61.42,154.00 61.87,152.48 62.33,150.96 62.78,149.45 63.23,147.95 63.69,146.45 64.14,144.96 64.60,143.48 65.05,142.00 65.51,140.54 65.96,139.08 66.42,137.63 66.87,136.19 67.32,134.77 67.78,133.35 68.23,131.94 68.69,130.55 69.14,129.17 69.60,127.79 70.06,126.43 70.51,125.09 70.97,123.75 71.42,122.43 71.88,121.12 72.33,119.82 72.79,118.54 73.24,117.27 73.70,116.02 74.16,114.77 74.61,113.55 75.07,112.33 75.52,111.13 75.98,109.95 76.44,108.77 76.89,107.62 77.35,106.47 77.81,105.34 78.26,104.23 78.72,103.13 79.18,102.04 79.63,100.97 80.09,99.92 80.55,98.87 81.00,97.84 81.46,96.83 81.92,95.83 82.37,94.85 82.83,93.87 83.29,92.92 83.75,91.97 84.20,91.04 84.66,90.13 85.12,89.23 85.58,88.34 86.03,87.46 86.49,86.60 86.95,85.75 87.41,84.92 87.86,84.10 88.32,83.29 88.78,82.50 89.24,81.71 89.70,80.94 90.15,80.19 90.61,79.44 91.07,78.71 91.53,77.99 91.99,77.28 92.44,76.59 92.90,75.90 93.36,75.23 93.82,74.57 94.28,73.92 94.73,73.28 95.19,72.65 95.65,72.04 96.11,71.43 96.57,70.84 97.03,70.25 97.48,69.68 97.94,69.11 98.40,68.56 98.86,68.02 99.32,67.48 99.78,66.96 100.24,66.44 100.70,65.94 101.15,65.44 101.61,64.96 102.07,64.48 102.53,64.01 102.99,63.55 103.45,63.10 103.91,62.66 104.37,62.22 104.82,61.79 105.28,61.37 105.74,60.96 106.20,60.56 106.66,60.17 107.12,59.78 107.58,59.40 108.04,59.02 108.50,58.66 108.96,58.30 109.42,57.95 109.87,57.60 110.33,57.26 110.79,56.93 111.25,56.61 111.71,56.29 112.17,55.98 112.63,55.67 113.09,55.37 113.55,55.07 114.01,54.78 114.47,54.50 114.93,54.22 115.39,53.95 115.85,53.68 116.31,53.42 116.76,53.17 117.22,52.92 117.68,52.67 118.14,52.43 118.60,52.19 119.06,51.96 119.52,51.73 119.98,51.51 120.44,51.29 120.90,51.08 121.36,50.87 121.82,50.66 122.28,50.46 122.74,50.27 123.20,50.07 123.66,49.89 124.12,49.70 124.58,49.52 125.04,49.34 125.50,49.17 125.96,49.00 126.42,48.83 126.88,48.67 127.33,48.51 127.79,48.35 128.25,48.19 128.71,48.04 129.17,47.90 129.63,47.75 130.09,47.61 130.55,47.47 131.01,47.34 131.47,47.20 131.93,47.07 132.39,46.95 132.85,46.82 133.31,46.70 133.77,46.58 134.23,46.46 134.69,46.35 135.15,46.23 135.61,46.12 136.07,46.02 136.53,45.91 136.99,45.81 137.45,45.71 137.91,45.61 138.37,45.51 138.83,45.41 139.29,45.32 139.75,45.23 140.21,45.14 140.67,45.05 141.13,44.97 141.59,44.88 142.05,44.80 142.51,44.72 142.97,44.64 143.43,44.57 143.89,44.49 144.35,44.42 144.81,44.34 145.27,44.27 145.73,44.20 146.19,44.14 146.65,44.07 147.11,44.01 147.57,43.94 148.03,43.88 148.49,43.82 148.95,43.76 149.41,43.70 149.87,43.64 150.33,43.59 150.79,43.53 151.25,43.48 151.71,43.43 152.17,43.37 152.63,43.32 153.09,43.28 153.55,43.23 154.01,43.18 154.47,43.13 154.93,43.09 155.39,43.04 155.85,43.00 156.31,42.96 156.77,42.92 157.23,42.88 157.69,42.84 158.15,42.80 158.61,42.76 159.07,42.72 159.53,42.68 159.99,42.65 160.45,42.61 160.91,42.58 161.37,42.55 161.83,42.51 162.29,42.48 162.75,42.45 163.21,42.42 163.67,42.39 164.13,42.36 164.59,42.33 165.05,42.30 165.51,42.27 165.97,42.25 166.43,42.22 166.89,42.19 167.35,42.17 167.81,42.14 168.27,42.12 168.73,42.10 169.19,42.07 169.65,42.05 170.11,42.03 170.57,42.01 171.03,41.98 171.49,41.96 171.95,41.94 172.41,41.92 172.87,41.90 173.33,41.88 173.79,41.87 174.25,41.85 174.71,41.83 175.17,41.81 175.63,41.79 176.09,41.78 176.55,41.76 177.01,41.74 177.47,41.73 177.93,41.71 178.39,41.70 178.85,41.68 179.31,41.67 179.77,41.65 180.23,41.64 180.69,41.63 181.15,41.61 181.61,41.60 182.07,41.59 182.53,41.57 182.99,41.56 183.45,41.55 183.91,41.54 184.37,41.53 184.83,41.52 185.29,41.51 185.75,41.49 186.21,41.48 186.67,41.47 187.13,41.46 187.59,41.45 188.05,41.44 188.51,41.43 188.97,41.43 189.43,41.42 189.89,41.41 190.35,41.40 190.81,41.39 191.27,41.38 191.73,41.37 192.19,41.37 192.65,41.36 193.11,41.35 193.57,41.34 194.03,41.34 194.49,41.33 194.95,41.32 195.41,41.31 195.87,41.31 196.33,41.30 196.79,41.29 197.25,41.29 197.71,41.28 198.17,41.28 198.63,41.27 199.09,41.26 199.55,41.26 200.01,41.25 200.47,41.25 200.93,41.24 201.39,41.24 201.86,41.23 202.32,41.23 202.78,41.22 203.24,41.22 203.70,41.21 204.16,41.21 204.62,41.20 205.08,41.20 205.54,41.20 206.00,41.19 206.46,41.19 206.92,41.18 207.38,41.18 207.84,41.18 208.30,41.17 208.76,41.17 209.22,41.16 209.68,41.16 210.14,41.16 210.60,41.15 211.06,41.15 211.52,41.15 211.98,41.14 212.44,41.14 212.90,41.14 213.36,41.14 213.82,41.13 214.28,41.13 214.74,41.13 215.20,41.12 215.66,41.12 216.12,41.12 216.58,41.12 217.04,41.11 217.50,41.11 217.96,41.11 218.42,41.11 218.88,41.10 219.34,41.10 219.80,41.10 220.26,41.10 220.72,41.10 221.18,41.09 221.64,41.09 222.10,41.09 222.56,41.09 223.02,41.09 223.48,41.08 223.94,41.08 224.40,41.08 224.86,41.08 225.32,41.08 225.78,41.08 226.24,41.07 226.70,41.07 227.16,41.07 227.62,41.07 228.08,41.07 228.54,41.07 229.00,41.07 229.46,41.06 229.92,41.06 230.38,41.06 230.84,41.06 231.30,41.06 231.76,41.06 232.22,41.06 232.68,41.05 233.14,41.05 233.60,41.05 234.06,41.05 234.52,41.05 234.98,41.05 235.44,41.05 235.90,41.05 236.36,41.05 236.82,41.05 237.28,41.04 237.74,41.04 238.20,41.04 238.66,41.04 239.12,41.04 239.58,41.04 240.04,41.04 240.50,41.04 240.96,41.04 241.42,41.04 241.88,41.04 242.35,41.03 242.81,41.03 243.27,41.03 243.73,41.03 244.19,41.03 244.65,41.03 245.11,41.03 245.57,41.03 246.03,41.03 246.49,41.03 246.95,41.03 247.41,41.03 247.87,41.03 248.33,41.03 248.79,41.03 249.25,41.03 249.71,41.02 250.17,41.02 250.63,41.02 251.09,41.02 251.55,41.02 252.01,41.02 252.47,41.02 252.93,41.02 253.39,41.02 253.85,41.02 254.31,41.02 254.77,41.02 255.23,41.02 255.69,41.02 256.15,41.02 256.61,41.02 257.07,41.02 257.53,41.02 257.99,41.02 258.45,41.02 258.91,41.02 259.37,41.02 259.83,41.02 260.29,41.02 260.75,41.01 261.21,41.01 261.67,41.01 262.13,41.01 262.59,41.01 263.05,41.01 263.51,41.01 263.97,41.01 264.43,41.01 264.89,41.01 265.35,41.01 265.81,41.01 266.27,41.01 266.73,41.01 267.19,41.01 267.65,41.01 268.11,41.01 268.57,41.01 269.03,41.01 269.49,41.01 269.95,41.01 270.41,41.01 270.87,41.01 271.33,41.01 271.79,41.01 272.25,41.01 272.71,41.01 273.17,41.01 273.63,41.01 274.09,41.01 274.55,41.01 275.01,41.01 275.47,41.01 275.93,41.01 276.39,41.01 276.85,41.01 277.31,41.01 277.77,41.01 278.23,41.01 278.69,41.01 279.15,41.01 279.61,41.01 280.07,41.01 280.53,41.01 280.99,41.01 281.46,41.01 281.92,41.01 282.38,41.01 282.84,41.01 283.30,41.01 283.76,41.01 284.22,41.00 284.68,41.00 285.14,41.00 285.60,41.00 286.06,41.00 286.52,41.00 286.98,41.00 287.44,41.00 287.90,41.00 288.36,41.00 288.82,41.00 289.28,41.00 289.74,41.00 290.20,41.00 290.66,41.00 291.12,41.00 291.58,41.00 292.04,41.00 292.50,41.00 292.96,41.00 293.42,41.00 293.88,41.00 294.34,41.00 294.80,41.00 295.26,41.00 295.72,41.00 296.18,41.00 296.64,41.00 297.10,41.00 297.56,41.00 298.02,41.00 298.48,41.00 298.94,41.00 299.40,41.00 299.86,41.00 300.32,41.00 300.78,41.00 301.24,41.00 301.70,41.00 302.16,41.00 302.62,41.00 303.08,41.00 303.54,41.00 304.00,41.00 304.46,41.00 304.92,41.00 305.38,41.00 305.84,41.00 306.30,41.00 306.76,41.00 307.22,41.00 307.68,41.00 308.14,41.00 308.60,41.00 309.06,41.00 309.52,41.00 309.98,41.00 310.44,41.00 310.90,41.00 311.36,41.00 311.82,41.00 312.28,41.00 312.74,41.00 313.20,41.00 313.66,41.00 314.12,41.00 314.58,41.00 315.04,41.00 315.50,41.00 315.96,41.00 316.42,41.00 316.88,41.00 317.34,41.00 317.80,41.00 318.26,41.00 318.72,41.00 319.18,41.00 319.64,41.00 320.10,41.00 320.57,41.00 321.03,41.00 321.49,41.00 321.95,41.00 322.41,41.00 322.87,41.00 323.33,41.00 323.79,41.00 324.25,41.00 324.71,41.00 325.17,41.00 325.63,41.00 326.09,41.00 326.55,41.00 327.01,41.00 327.47,41.00 327.93,41.00 328.39,41.00 328.85,41.00 329.31,41.00 329.77,41.00 330.23,41.00 330.69,41.00 331.15,41.00 331.61,41.00 332.07,41.00 332.53,41.00 332.99,41.00 333.45,41.00 333.91,41.00 334.37,41.00 334.83,41.00 335.29,41.00 335.75,41.00 336.21,41.00 336.67,41.00 337.13,41.00 337.59,41.00 338.05,41.00 338.51,41.00 338.97,41.00 339.43,41.00 339.89,41.00 340.35,41.00 340.81,41.00 341.27,41.00 341.73,41.00 342.19,41.00 342.65,41.00 343.11,41.00 343.57,41.00 344.03,41.00 344.49,41.00 344.95,41.00 345.41,41.00 345.87,41.00 346.33,41.00 346.79,41.00 347.25,41.00 347.71,41.00 348.17,41.00 348.63,41.00 349.09,41.00 349.55,41.00 350.01,41.00 350.47,41.00 350.93,41.00 351.39,41.00 351.64,41.00"/>
</g>
<g>
<line x1="24" y1="226.5" x2="357.5" y2="226.5" stroke="#000" stroke-width="1.3"/>
<line x1="31" y1="30.4" x2="31" y2="236.6" stroke="#000" stroke-width="1.4"/>
<line x1="41.39" y1="226.5" x2="41.39" y2="224.2" stroke="#222" stroke-width="0.8"/>
<line x1="52.06" y1="226.5" x2="52.06" y2="224.2" stroke="#222" stroke-width="0.8"/>
<line x1="62.73" y1="226.5" x2="62.73" y2="224.2" stroke="#222" stroke-width="0.8"/>
<line x1="73.39" y1="226.5" x2="73.39" y2="222.7" stroke="#222" stroke-width="0.8"/>
<line x1="84.06" y1="226.5" x2="84.06" y2="224.2" stroke="#222" stroke-width="0.8"/>
<line x1="94.72" y1="226.5" x2="94.72" y2="224.2" stroke="#222" stroke-width="0.8"/>
<line x1="105.39" y1="226.5" x2="105.39" y2="224.2" stroke="#222" stroke-width="0.8"/>
<line x1="116.05" y1="226.5" x2="116.05" y2="222.7" stroke="#222" stroke-width="0.8"/>
<line x1="126.72" y1="226.5" x2="126.72" y2="224.2" stroke="#222" stroke-width="0.8"/>
<line x1="137.38" y1="226.5" x2="137.38" y2="224.2" stroke="#222" stroke-width="0.8"/>
<line x1="148.04" y1="226.5" x2="148.04" y2="224.2" stroke="#222" stroke-width="0.8"/>
<line x1="158.71" y1="226.5" x2="158.71" y2="222.7" stroke="#222" stroke-width="0.8"/>
<line x1="169.38" y1="226.5" x2="169.38" y2="224.2" stroke="#222" stroke-width="0.8"/>
<line x1="180.04" y1="226.5" x2="180.04" y2="224.2" stroke="#222" stroke-width="0.8"/>
<line x1="190.70" y1="226.5" x2="190.70" y2="224.2" stroke="#222" stroke-width="0.8"/>
<line x1="201.37" y1="226.5" x2="201.37" y2="222.7" stroke="#222" stroke-width="0.8"/>
<line x1="212.03" y1="226.5" x2="212.03" y2="224.2" stroke="#222" stroke-width="0.8"/>
<line x1="222.70" y1="226.5" x2="222.70" y2="224.2" stroke="#222" stroke-width="0.8"/>
<line x1="233.36" y1="226.5" x2="233.36" y2="224.2" stroke="#222" stroke-width="0.8"/>
<line x1="244.03" y1="226.5" x2="244.03" y2="222.7" stroke="#222" stroke-width="0.8"/>
<line x1="254.69" y1="226.5" x2="254.69" y2="224.2" stroke="#222" stroke-width="0.8"/>
<line x1="265.36" y1="226.5" x2="265.36" y2="224.2" stroke="#222" stroke-width="0.8"/>
<line x1="276.02" y1="226.5" x2="276.02" y2="224.2" stroke="#222" stroke-width="0.8"/>
<line x1="286.69" y1="226.5" x2="286.69" y2="222.7" stroke="#222" stroke-width="0.8"/>
<line x1="297.36" y1="226.5" x2="297.36" y2="224.2" stroke="#222" stroke-width="0.8"/>
<line x1="308.02" y1="226.5" x2="308.02" y2="224.2" stroke="#222" stroke-width="0.8"/>
<line x1="318.69" y1="226.5" x2="318.69" y2="224.2" stroke="#222" stroke-width="0.8"/>
<line x1="329.35" y1="226.5" x2="329.35" y2="222.7" stroke="#222" stroke-width="0.8"/>
<line x1="340.02" y1="226.5" x2="340.02" y2="224.2" stroke="#222" stroke-width="0.8"/>
<line x1="350.68" y1="226.5" x2="350.68" y2="224.2" stroke="#222" stroke-width="0.8"/>
<line x1="31" y1="235.78" x2="33.5" y2="235.78" stroke="#222" stroke-width="0.8"/>
<line x1="31" y1="217.22" x2="33.5" y2="217.22" stroke="#222" stroke-width="0.8"/>
<line x1="31" y1="207.95" x2="33.5" y2="207.95" stroke="#222" stroke-width="0.8"/>
<line x1="31" y1="198.68" x2="33.5" y2="198.68" stroke="#222" stroke-width="0.8"/>
<line x1="31" y1="189.40" x2="33.5" y2="189.40" stroke="#222" stroke-width="0.8"/>
<line x1="31" y1="180.12" x2="35.0" y2="180.12" stroke="#222" stroke-width="0.8"/>
<line x1="31" y1="170.85" x2="33.5" y2="170.85" stroke="#222" stroke-width="0.8"/>
<line x1="31" y1="161.57" x2="33.5" y2="161.57" stroke="#222" stroke-width="0.8"/>
<line x1="31" y1="152.30" x2="33.5" y2="152.30" stroke="#222" stroke-width="0.8"/>
<line x1="31" y1="143.02" x2="33.5" y2="143.02" stroke="#222" stroke-width="0.8"/>
<line x1="31" y1="133.75" x2="35.0" y2="133.75" stroke="#222" stroke-width="0.8"/>
<line x1="31" y1="124.47" x2="33.5" y2="124.47" stroke="#222" stroke-width="0.8"/>
<line x1="31" y1="115.20" x2="33.5" y2="115.20" stroke="#222" stroke-width="0.8"/>
<line x1="31" y1="105.92" x2="33.5" y2="105.92" stroke="#222" stroke-width="0.8"/>
<line x1="31" y1="96.65" x2="33.5" y2="96.65" stroke="#222" stroke-width="0.8"/>
<line x1="31" y1="87.38" x2="35.0" y2="87.38" stroke="#222" stroke-width="0.8"/>
<line x1="31" y1="78.10" x2="33.5" y2="78.10" stroke="#222" stroke-width="0.8"/>
<line x1="31" y1="68.83" x2="33.5" y2="68.83" stroke="#222" stroke-width="0.8"/>
<line x1="31" y1="59.55" x2="33.5" y2="59.55" stroke="#222" stroke-width="0.8"/>
<line x1="31" y1="50.28" x2="33.5" y2="50.28" stroke="#222" stroke-width="0.8"/>
<line x1="31" y1="41.00" x2="35.0" y2="41.00" stroke="#222" stroke-width="0.8"/>
<line x1="31" y1="31.72" x2="33.5" y2="31.72" stroke="#222" stroke-width="0.8"/>
</g>
<g>
<text x="73.39" y="249.4" text-anchor="middle" class="tk">20</text>
<text x="116.05" y="249.4" text-anchor="middle" class="tk">40</text>
<text x="158.71" y="249.4" text-anchor="middle" class="tk">60</text>
<text x="201.37" y="249.4" text-anchor="middle" class="tk">80</text>
<text x="244.03" y="249.4" text-anchor="middle" class="tk">100</text>
<text x="286.69" y="249.4" text-anchor="middle" class="tk">120</text>
<text x="329.35" y="249.4" text-anchor="middle" class="tk">140</text>
<text x="27.6" y="187.53" text-anchor="end" class="tk">0.5</text>
<text x="27.6" y="141.15" text-anchor="end" class="tk">1.0</text>
<text x="27.6" y="94.78" text-anchor="end" class="tk">1.5</text>
<text x="27.6" y="48.40" text-anchor="end" class="tk">2.0</text>
<text x="30.65" y="18.6" text-anchor="middle" class="tk">QFI</text>
<text x="365.8" y="234.5" class="bl">B</text>
</g>
<g>
<rect x="234.2" y="57.7" width="81.1" height="132.9" rx="7.5" ry="7.5" fill="#f2f2f2"/>
<line x1="240.3" y1="69.1" x2="259.9" y2="69.1" stroke="#5E81B5" stroke-width="2.3"/>
<text x="269.7" y="74.60" class="lgi">T</text><text x="281.6" y="74.60" class="lg">=2</text>
<line x1="240.3" y1="95.64999999999999" x2="259.9" y2="95.64999999999999" stroke="#E19C24" stroke-width="2.3"/>
<text x="269.7" y="101.15" class="lgi">T</text><text x="281.6" y="101.15" class="lg">=3</text>
<line x1="240.3" y1="122.19999999999999" x2="259.9" y2="122.19999999999999" stroke="#8FB032" stroke-width="2.3"/>
<text x="269.7" y="127.70" class="lgi">T</text><text x="281.6" y="127.70" class="lg">=5</text>
<line x1="240.3" y1="148.75" x2="259.9" y2="148.75" stroke="#EB6235" stroke-width="2.3"/>
<text x="269.7" y="154.25" class="lgi">T</text><text x="281.6" y="154.25" class="lg">=8</text>
<line x1="240.3" y1="175.3" x2="259.9" y2="175.3" stroke="#8778B3" stroke-width="2.3"/>
<text x="269.7" y="180.80" class="lgi">T</text><text x="281.6" y="180.80" class="lg">=10</text>
</g>
</svg>
</body></html>
